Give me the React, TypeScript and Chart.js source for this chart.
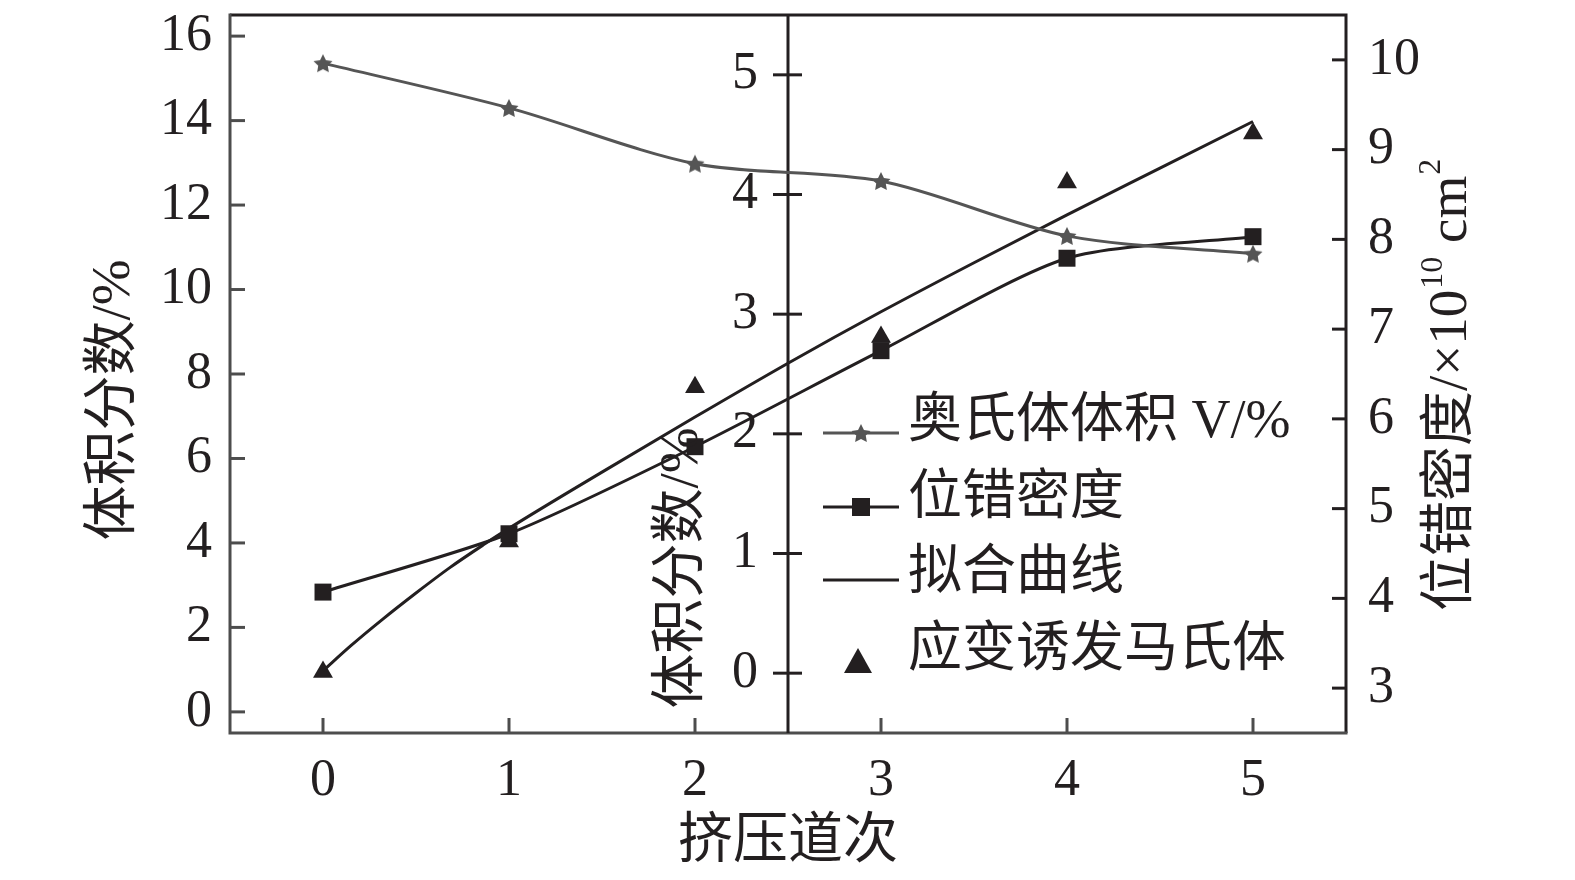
import React, { useEffect, useRef } from 'react';
import { Chart, registerables } from 'chart.js';

Chart.register(...registerables);

// ---------------- data ----------------
const passes = [0, 1, 2, 3, 4, 5];
const austeniteVolume = [15.36, 14.3, 12.98, 12.57, 11.27, 10.85];
const dislocationDensity = [4.07, 4.72, 5.69, 6.76, 7.79, 8.03];
const martensiteVolume = [0.01, 1.1, 2.39, 2.81, 4.1, 4.51];
const fitPasses = [0, 0.15, 0.32, 0.5, 0.68, 0.86, 1, 1.5, 2, 2.5, 3, 3.5, 4, 4.5, 5];
const fitValues = [0.02, 0.23, 0.45, 0.67, 0.88, 1.07, 1.21, 1.68, 2.14, 2.59, 3.02, 3.43, 3.83, 4.22, 4.61];

const xTicks = [0, 1, 2, 3, 4, 5];
const leftTicks = [0, 2, 4, 6, 8, 10, 12, 14, 16];
const midTicks = [0, 1, 2, 3, 4, 5];
const rightTicks = [3, 4, 5, 6, 7, 8, 9, 10];

const legendLabels = ['奥氏体体积 V/%', '位错密度', '拟合曲线', '应变诱发马氏体'];
const xTitle = '挤压道次';
const leftTitle = '体积分数/%';
const midTitle = '体积分数/%';
const rightTitleMain = '位错密度/×10';
const rightTitleSup1 = '10';
const rightTitleUnit = ' cm';
const rightTitleSup2 = '2';

// ---------------- styles ----------------
const INK = '#231f20';
const GREY = '#555555';
const AXIS_GREY = '#4d4d4d';
const SERIF = '"Liberation Serif", "Noto Sans CJK SC", serif';
const TICK_FONT = 52;
const TITLE_FONT = 55;

function drawStarPath(g: CanvasRenderingContext2D, cx: number, cy: number, r: number) {
  g.beginPath();
  for (let i = 0; i < 10; i++) {
    const rad = i % 2 === 0 ? r : r * 0.5;
    const a = -Math.PI / 2 + (i * Math.PI) / 5;
    const px = cx + rad * Math.cos(a);
    const py = cy + rad * Math.sin(a);
    if (i === 0) g.moveTo(px, py);
    else g.lineTo(px, py);
  }
  g.closePath();
}

function makeStarImage(r: number, color: string) {
  const c = document.createElement('canvas');
  const s = Math.ceil(r * 2 + 2);
  c.width = s;
  c.height = s;
  const g = c.getContext('2d')!;
  drawStarPath(g, s / 2, s / 2 + 1, r);
  g.fillStyle = color;
  g.fill();
  return c;
}

const axesPlugin = {
  id: 'customAxes',
  beforeDatasetsDraw(chart: any) {
    const { ctx, chartArea, scales } = chart;
    const { left, right, top, bottom } = chartArea;
    ctx.save();
    ctx.lineCap = 'butt';
    // frame
    ctx.lineWidth = 3;
    ctx.strokeStyle = INK;
    ctx.beginPath();
    ctx.moveTo(left, top);
    ctx.lineTo(right, top);
    ctx.lineTo(right, bottom);
    ctx.stroke();
    ctx.strokeStyle = AXIS_GREY;
    ctx.beginPath();
    ctx.moveTo(left, top - 1.5);
    ctx.lineTo(left, bottom);
    ctx.lineTo(right + 1.5, bottom);
    ctx.stroke();

    // left ticks (inward)
    ctx.strokeStyle = AXIS_GREY;
    leftTicks.forEach((v) => {
      const y = scales.yL.getPixelForValue(v);
      ctx.beginPath();
      ctx.moveTo(left, y);
      ctx.lineTo(left + 15, y);
      ctx.stroke();
    });
    // bottom ticks (inward)
    xTicks.forEach((v) => {
      const x = scales.x.getPixelForValue(v);
      ctx.beginPath();
      ctx.moveTo(x, bottom);
      ctx.lineTo(x, bottom - 15);
      ctx.stroke();
    });
    // right ticks (inward)
    ctx.strokeStyle = INK;
    rightTicks.forEach((v) => {
      const y = scales.yR.getPixelForValue(v);
      ctx.beginPath();
      ctx.moveTo(right, y);
      ctx.lineTo(right - 14, y);
      ctx.stroke();
    });

    // middle axis at x = 2.5
    const mx = scales.x.getPixelForValue(2.5);
    ctx.strokeStyle = INK;
    ctx.beginPath();
    ctx.moveTo(mx, top);
    ctx.lineTo(mx, bottom);
    ctx.stroke();
    ctx.fillStyle = INK;
    ctx.font = `${TICK_FONT}px ${SERIF}`;
    ctx.textAlign = 'right';
    ctx.textBaseline = 'middle';
    midTicks.forEach((v) => {
      const y = scales.yMid.getPixelForValue(v);
      ctx.beginPath();
      ctx.moveTo(mx - 15, y);
      ctx.lineTo(mx + 14, y);
      ctx.stroke();
      ctx.fillText(String(v), mx - 30, y);
    });
    ctx.restore();
  },
  afterDraw(chart: any) {
    const { ctx } = chart;
    ctx.save();
    ctx.fillStyle = INK;
    ctx.textBaseline = 'middle';

    // x title
    ctx.font = `${TITLE_FONT}px ${SERIF}`;
    ctx.textAlign = 'center';
    ctx.fillText(xTitle, 788, 843);

    // left title
    ctx.save();
    ctx.translate(115, 400);
    ctx.rotate(-Math.PI / 2);
    ctx.fillText(leftTitle, 0, 0);
    ctx.restore();

    // middle title
    ctx.save();
    ctx.translate(683, 568);
    ctx.rotate(-Math.PI / 2);
    ctx.fillText(midTitle, 0, 0);
    ctx.restore();

    // right title with superscripts
    ctx.save();
    ctx.translate(1452, 611);
    ctx.rotate(-Math.PI / 2);
    ctx.textAlign = 'left';
    let cx = 0;
    ctx.font = `${TITLE_FONT}px ${SERIF}`;
    ctx.fillText(rightTitleMain, cx, 0);
    cx += ctx.measureText(rightTitleMain).width;
    ctx.font = `32px ${SERIF}`;
    ctx.fillText(rightTitleSup1, cx + 1, -18);
    cx += ctx.measureText(rightTitleSup1).width + 1;
    ctx.font = `${TITLE_FONT}px ${SERIF}`;
    ctx.fillText(rightTitleUnit, cx, 0);
    cx += ctx.measureText(rightTitleUnit).width;
    ctx.font = `32px ${SERIF}`;
    ctx.fillText(rightTitleSup2, cx + 1, -20);
    ctx.restore();

    // legend
    const lx0 = 823;
    const lx1 = 899;
    const mxm = 861;
    const rows = [433, 507, 580, 664];
    const textY = [423, 500, 575, 652];
    const tx = 908;
    ctx.lineWidth = 3;
    // row 1: star line
    ctx.strokeStyle = GREY;
    ctx.beginPath();
    ctx.moveTo(lx0, rows[0]);
    ctx.lineTo(lx1, rows[0]);
    ctx.stroke();
    drawStarPath(ctx, mxm, rows[0] + 1, 10);
    ctx.fillStyle = GREY;
    ctx.fill();
    // row 2: square line
    ctx.strokeStyle = INK;
    ctx.beginPath();
    ctx.moveTo(lx0, rows[1]);
    ctx.lineTo(lx1, rows[1]);
    ctx.stroke();
    ctx.fillStyle = INK;
    ctx.fillRect(mxm - 9, rows[1] - 9, 18, 18);
    // row 3: line
    ctx.beginPath();
    ctx.moveTo(lx0, rows[2]);
    ctx.lineTo(lx1, rows[2]);
    ctx.stroke();
    // row 4: triangle
    ctx.beginPath();
    ctx.moveTo(858, rows[3] - 16);
    ctx.lineTo(872, rows[3] + 9);
    ctx.lineTo(844, rows[3] + 9);
    ctx.closePath();
    ctx.fill();

    ctx.font = `54px ${SERIF}`;
    ctx.textAlign = 'left';
    ctx.fillStyle = INK;
    legendLabels.forEach((t, i) => ctx.fillText(t, tx, textY[i]));
    ctx.restore();
  },
};

function setTicks(values: number[]) {
  return (s: any) => {
    s.ticks = values.map((v) => ({ value: v }));
  };
}

function zeroPadding(s: any) {
  s.paddingTop = 0;
  s.paddingBottom = 0;
  s.paddingLeft = 0;
  s.paddingRight = 0;
}

export default function App() {
  const ref = useRef<HTMLCanvasElement | null>(null);

  useEffect(() => {
    if (!ref.current) return;
    const star = makeStarImage(10, GREY);
    const chart = new Chart(ref.current, {
      type: 'line',
      data: {
        datasets: [
          {
            label: legendLabels[0],
            data: passes.map((x, i) => ({ x, y: austeniteVolume[i] })),
            yAxisID: 'yL',
            borderColor: GREY,
            backgroundColor: GREY,
            borderWidth: 3,
            tension: 0.3,
            pointStyle: star as any,
            pointRadius: 10,
          },
          {
            label: legendLabels[1],
            data: passes.map((x, i) => ({ x, y: dislocationDensity[i] })),
            yAxisID: 'yR',
            borderColor: INK,
            backgroundColor: INK,
            borderWidth: 3,
            tension: 0.25,
            pointStyle: 'rect',
            pointRadius: 12,
            pointBorderWidth: 0,
          },
          {
            label: legendLabels[2],
            data: fitPasses.map((x, i) => ({ x, y: fitValues[i] })),
            yAxisID: 'yMid',
            borderColor: INK,
            borderWidth: 3,
            cubicInterpolationMode: 'monotone',
            pointRadius: 0,
          },
          {
            label: legendLabels[3],
            data: passes.map((x, i) => ({ x, y: martensiteVolume[i] })),
            yAxisID: 'yMid',
            showLine: false,
            borderColor: INK,
            backgroundColor: INK,
            pointStyle: 'triangle',
            pointRadius: 11.5,
            pointBorderWidth: 0,
          },
        ],
      },
      options: {
        animation: false,
        responsive: false,
        devicePixelRatio: 1,
        layout: { padding: { top: 15, left: 0, right: 0, bottom: 0 } },
        plugins: { legend: { display: false }, tooltip: { enabled: false } },
        scales: {
          x: {
            type: 'linear',
            position: 'bottom',
            min: -0.5,
            max: 5.5,
            afterBuildTicks: setTicks(xTicks),
            afterFit: (s: any) => {
              s.height = 147;
              zeroPadding(s);
            },
            grid: { display: false, drawTicks: false },
            border: { display: false },
            ticks: {
              autoSkip: false,
              maxRotation: 0,
              padding: 17,
              color: INK,
              font: { family: SERIF, size: TICK_FONT },
            },
          },
          yL: {
            type: 'linear',
            position: 'left',
            min: -0.5,
            max: 16.5,
            afterBuildTicks: setTicks(leftTicks),
            afterFit: (s: any) => {
              s.width = 230;
              zeroPadding(s);
            },
            grid: { display: false, drawTicks: false },
            border: { display: false },
            ticks: {
              autoSkip: false,
              padding: 18,
              color: INK,
              font: { family: SERIF, size: TICK_FONT },
            },
          },
          yR: {
            type: 'linear',
            position: 'right',
            min: 2.5,
            max: 10.5,
            afterBuildTicks: setTicks(rightTicks),
            afterFit: (s: any) => {
              s.width = 229;
              zeroPadding(s);
            },
            grid: { display: false, drawTicks: false },
            border: { display: false },
            ticks: {
              autoSkip: false,
              padding: 22,
              color: INK,
              font: { family: SERIF, size: TICK_FONT },
            },
          },
          yMid: {
            type: 'linear',
            position: 'left',
            display: false,
            min: -0.5,
            max: 5.5,
            afterFit: (s: any) => {
              s.width = 0;
              zeroPadding(s);
            },
          },
        },
      },
      plugins: [axesPlugin],
    } as any);
    return () => chart.destroy();
  }, []);

  return (
    <div style={{ position: 'fixed', left: 0, top: 0, width: 1575, height: 880, background: '#fff' }}>
      <canvas ref={ref} width={1575} height={880} style={{ display: 'block', width: 1575, height: 880 }} />
    </div>
  );
}
